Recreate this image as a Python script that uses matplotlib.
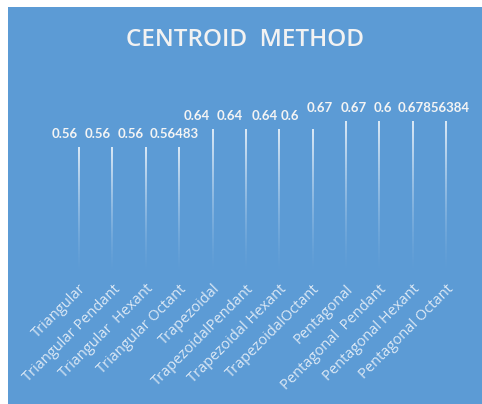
import matplotlib
matplotlib.use('Agg')

import matplotlib.pyplot as plt
import numpy as np
from matplotlib.patches import Rectangle

plt.rcParams['font.family'] = ['Lato', 'DejaVu Sans']

# data
categories = ["Triangular", "Triangular Pendant", "Triangular  Hexant", "Triangular Octant",
              "Trapezoidal", "TrapezoidalPendant", "Trapezoidal Hexant", "TrapezoidalOctant",
              "Pentagonal", "Pentagonal  Pendant", "Pentagonal Hexant", "Pentagonal Octant"]
values = [0.56483, 0.56483, 0.56483, 0.56483,
          0.642857, 0.642857, 0.642857, 0.642857,
          0.67856384, 0.67856384, 0.67856384, 0.67856384]
# labels as they show in the chart (overlapping ones are cut off)
value_labels = ["0.56", "0.56", "0.56", "0.56483",
                "0.64", "0.64", "0.64", "0.6",
                "0.67", "0.67", "0.6", "0.67856384"]
# left edge of each label relative to its bar, in pixels
label_dx = [-27, -28, -28, -29, -29, -29, -28, -32, -39, -39, -39, -48]

bg = '#5C9BD5'
W, H = 482, 404
fig = plt.figure(figsize=(W / 100, H / 100), dpi=100, facecolor='white')
# blue chart area (white margin top/left)
fig.patches.append(Rectangle((8 / W, 0), 1 - 8 / W, 1 - 7 / H, transform=fig.transFigure,
                             facecolor=bg, edgecolor='none', zorder=-10))

ax = fig.add_axes([62.3 / W, (H - 276) / H, 400.4 / W, 183 / H], zorder=1)
ax.set_facecolor('none')
for s in ax.spines.values():
    s.set_visible(False)

x = np.arange(len(categories))
bars = ax.bar(x, values, width=0.055, color='none', edgecolor='none')

# gradient fill white -> transparent
grad = np.zeros((100, 1, 4))
grad[:, 0, :3] = 1.0
grad[:, 0, 3] = np.linspace(0.0, 0.85, 100) ** 1.5
for b in bars:
    x0, y0 = b.get_x(), b.get_y()
    im = ax.imshow(grad, extent=[x0, x0 + b.get_width(), y0, y0 + b.get_height()],
                   origin='lower', aspect='auto', zorder=2)
    im.set_clip_path(b)

ax.set_xlim(-0.5, len(categories) - 0.5)
ax.set_ylim(0, 0.8)
ax.set_yticks([])
ax.set_xticks(x)
ax.set_xticklabels(categories, rotation=45, ha='right', va='top', rotation_mode='anchor',
                   fontsize=10.5, color='#dbe8f5', family=['Open Sans', 'DejaVu Sans'])
ax.tick_params(axis='x', length=0, pad=4)

for i, (v, lab) in enumerate(zip(values, value_labels)):
    ax.annotate(lab, (x[i], v), xytext=(label_dx[i] * 0.72, 9.5), textcoords='offset points',
                ha='left', va='center', fontsize=9.5, fontweight='bold', color='#f4f4f4',
                zorder=5)

fig.text(245 / W, 1 - 40 / H, "CENTROID  METHOD", ha='center', va='center',
         fontsize=17.5, fontweight='semibold', color='#f2f2f2', family=['Open Sans', 'DejaVu Sans'])

fig.savefig('out.png', dpi=100, facecolor='white')
